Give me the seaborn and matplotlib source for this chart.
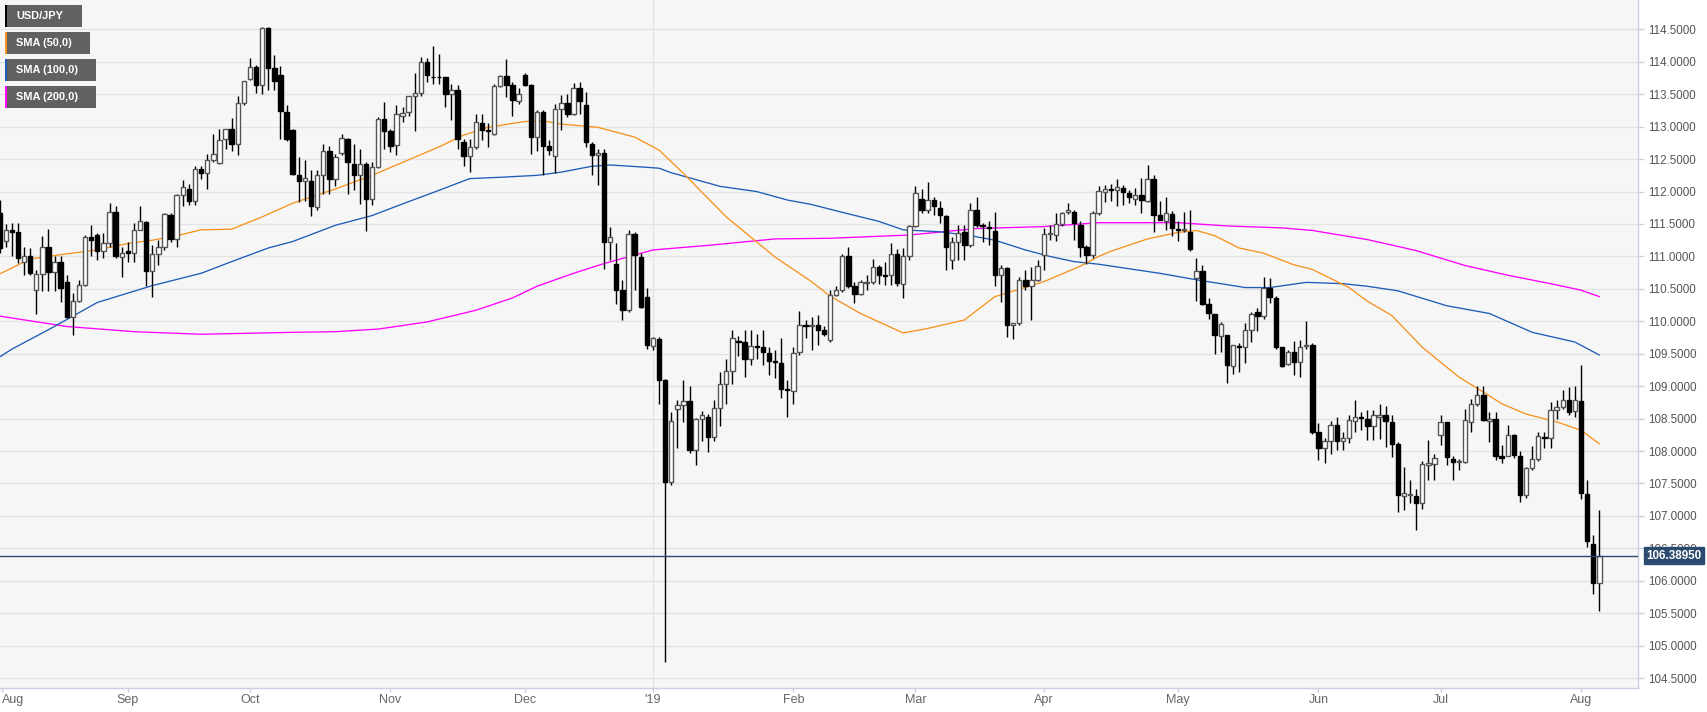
import numpy as np
import pandas as pd
import matplotlib
matplotlib.use("Agg")
import matplotlib.pyplot as plt
from matplotlib.patches import Rectangle
import seaborn as sns

# ---------------- data ----------------
first_day = "2018-08-03"
last_day = "2019-08-06"

opens = [111.67, 111.24, 111.40, 111.38, 110.92, 111.00, 110.48, 110.73, 111.15, 110.76,
         110.91, 110.60, 110.07, 110.31, 110.56, 111.30, 111.33, 111.09, 111.20, 111.69,
         110.99, 111.09, 111.06, 111.41, 111.53, 110.77, 111.04, 111.14, 111.64, 111.27,
         111.94, 112.04, 111.85, 112.35, 112.28, 112.49, 112.44, 112.81, 112.97, 112.73,
         113.37, 113.74, 113.92, 113.65, 114.52, 113.91, 113.79, 113.23, 112.95, 112.26,
         112.16, 112.16, 111.76, 112.25, 112.63, 112.20, 112.59, 112.81, 112.43, 112.26,
         112.42, 111.89, 112.38, 113.12, 112.93, 112.72, 113.17, 113.22, 113.47, 113.52,
         113.99, 113.77, 113.77, 113.77, 113.50, 113.56, 112.77, 112.55, 112.68, 113.06,
         112.95, 112.88, 113.63, 113.78, 113.65, 113.39, 113.80, 113.65, 112.84, 113.23,
         112.70, 112.55, 113.28, 113.37, 113.19, 113.60, 113.33, 112.74, 112.56, 112.59,
         111.23, 110.88, 110.48, 110.17, 111.34, 110.99, 110.38, 109.62, 109.73, 109.09,
         107.53, 108.65, 108.71, 108.77, 108.02, 108.49, 108.52, 108.22, 108.67, 109.03,
         109.23, 109.69, 109.68, 109.42, 109.62, 109.60, 109.51, 109.38, 109.35, 108.95,
         108.92, 109.52, 109.94, 109.93, 109.95, 109.87, 109.71, 110.41, 110.48, 111.01,
         110.54, 110.42, 110.59, 110.61, 110.84, 110.72, 110.71, 111.04, 110.58, 111.00,
         111.47, 111.88, 111.71, 111.87, 111.75, 111.62, 110.94, 111.22, 111.37, 111.18,
         111.72, 111.48, 111.45, 111.39, 110.72, 110.82, 109.94, 109.97, 110.64, 110.54,
         110.64, 111.02, 111.35, 111.33, 111.50, 111.68, 111.69, 111.49, 111.14, 111.02,
         111.67, 111.99, 112.04, 112.03, 112.06, 111.98, 111.89, 111.94, 111.86, 112.20,
         111.64, 111.55, 111.65, 111.43, 111.40, 111.38, 110.67, 110.77, 110.27, 110.12,
         109.78, 109.79, 109.31, 109.62, 109.61, 109.86, 110.15, 110.08, 110.51, 110.36,
         109.61, 109.34, 109.53, 109.38, 109.62, 109.63, 108.29, 108.05, 108.15, 108.40,
         108.15, 108.20, 108.46, 108.52, 108.50, 108.38, 108.52, 108.55, 108.45, 108.11,
         107.31, 107.32, 107.30, 107.20, 107.79, 107.80, 108.24, 108.45, 107.88, 107.83,
         107.83, 108.45, 108.73, 108.87, 108.47, 108.50, 107.92, 107.92, 108.25, 107.93,
         107.32, 107.74, 107.88, 108.22, 108.20, 108.64, 108.68, 108.78, 108.62, 108.77,
         107.34, 106.57, 105.96]

highs = [111.87, 111.50, 111.51, 111.51, 111.15, 111.13, 110.79, 111.32, 111.43, 111.00,
         111.00, 110.72, 110.43, 110.64, 111.33, 111.49, 111.36, 111.36, 111.83, 111.77,
         111.15, 111.23, 111.51, 111.77, 111.54, 111.18, 111.25, 111.67, 111.67, 111.97,
         112.18, 112.12, 112.40, 112.40, 112.58, 112.88, 112.97, 112.97, 113.14, 113.47,
         113.71, 114.06, 113.95, 114.54, 114.54, 114.10, 113.94, 113.33, 112.97, 112.53,
         112.48, 112.33, 112.34, 112.74, 112.71, 112.58, 112.89, 112.82, 112.74, 112.66,
         112.45, 112.45, 113.15, 113.38, 112.97, 113.33, 113.30, 113.48, 113.82, 114.07,
         114.06, 114.25, 114.12, 113.77, 113.66, 113.64, 112.81, 112.81, 113.20, 113.20,
         113.05, 113.66, 113.79, 114.05, 113.69, 113.59, 113.82, 113.66, 113.26, 113.26,
         112.80, 113.35, 113.49, 113.51, 113.67, 113.69, 113.54, 112.76, 112.66, 112.66,
         111.46, 111.20, 110.63, 111.40, 111.38, 111.05, 110.51, 109.76, 109.76, 109.11,
         108.60, 108.78, 109.10, 109.01, 108.51, 108.62, 108.57, 108.78, 109.22, 109.42,
         109.86, 109.78, 109.86, 109.86, 109.80, 109.86, 109.60, 109.55, 109.75, 109.09,
         109.60, 110.16, 110.02, 110.07, 110.09, 109.93, 110.48, 110.54, 111.03, 111.14,
         110.61, 110.64, 110.71, 110.96, 110.87, 110.92, 111.20, 111.11, 111.13, 111.49,
         112.09, 112.04, 112.14, 111.92, 111.86, 111.64, 111.30, 111.49, 111.49, 111.83,
         111.91, 111.52, 111.55, 111.69, 110.87, 110.84, 109.97, 110.69, 110.79, 110.84,
         110.95, 111.44, 111.49, 111.67, 111.69, 111.83, 111.72, 111.54, 111.18, 111.70,
         112.09, 112.10, 112.12, 112.19, 112.10, 112.03, 112.05, 112.21, 112.41, 112.26,
         111.86, 111.92, 111.70, 111.54, 111.68, 111.72, 110.97, 110.87, 110.36, 110.12,
         109.99, 109.79, 109.64, 109.66, 109.98, 110.15, 110.20, 110.68, 110.66, 110.39,
         109.61, 109.56, 109.70, 109.71, 110.00, 109.66, 108.43, 108.20, 108.46, 108.52,
         108.30, 108.55, 108.79, 108.60, 108.63, 108.63, 108.73, 108.70, 108.55, 108.14,
         107.75, 107.55, 107.42, 107.85, 108.17, 107.95, 108.55, 108.45, 107.93, 107.88,
         108.65, 108.80, 109.01, 109.01, 108.60, 108.60, 108.09, 108.40, 108.26, 108.00,
         107.76, 108.07, 108.30, 108.30, 108.76, 108.78, 108.94, 108.99, 109.01, 109.33,
         107.56, 106.70, 107.09]

lows = [111.05, 111.15, 111.00, 110.90, 110.72, 110.72, 110.12, 110.46, 110.46, 110.46,
        110.30, 110.05, 109.79, 110.30, 110.55, 111.00, 110.95, 110.97, 111.15, 110.97,
        110.69, 110.92, 110.92, 111.40, 110.54, 110.38, 110.87, 111.10, 111.23, 111.15,
        111.77, 111.79, 111.79, 112.20, 112.04, 112.45, 112.43, 112.66, 112.63, 112.56,
        113.33, 113.72, 113.52, 113.51, 113.56, 113.56, 112.81, 112.78, 112.25, 111.84,
        111.86, 111.63, 111.71, 111.97, 111.97, 112.09, 112.56, 111.97, 112.02, 111.81,
        111.39, 111.79, 112.36, 112.66, 112.61, 112.56, 113.07, 113.17, 112.94, 113.48,
        113.69, 113.66, 113.66, 113.30, 113.10, 112.66, 112.40, 112.30, 112.66, 112.79,
        112.69, 112.87, 113.61, 113.46, 113.17, 113.35, 113.62, 112.58, 112.63, 112.25,
        112.56, 112.28, 112.95, 113.15, 113.18, 113.20, 112.69, 112.25, 112.10, 110.81,
        110.94, 110.27, 110.02, 110.15, 110.48, 110.20, 109.58, 109.56, 108.73, 104.75,
        107.47, 108.04, 108.45, 107.97, 107.78, 108.16, 107.98, 108.16, 108.39, 108.72,
        109.03, 109.47, 109.14, 109.32, 109.42, 109.32, 109.17, 109.13, 108.81, 108.53,
        108.72, 109.48, 109.75, 109.55, 109.63, 109.77, 109.68, 110.39, 110.45, 110.51,
        110.28, 110.40, 110.48, 110.58, 110.58, 110.56, 110.56, 110.54, 110.36, 110.95,
        111.46, 111.67, 111.67, 111.64, 111.51, 110.79, 110.80, 110.94, 110.94, 111.14,
        111.46, 111.22, 111.17, 110.54, 110.30, 109.76, 109.73, 109.94, 110.48, 110.02,
        110.62, 110.79, 111.26, 111.24, 111.47, 111.66, 111.26, 110.99, 110.88, 110.97,
        111.64, 111.84, 111.86, 111.77, 111.80, 111.83, 111.80, 111.67, 111.84, 111.38,
        111.56, 111.40, 111.32, 111.24, 111.38, 111.08, 110.31, 110.25, 110.04, 109.49,
        109.52, 109.05, 109.18, 109.22, 109.35, 109.68, 109.85, 110.04, 110.28, 109.58,
        109.30, 109.33, 109.17, 109.14, 109.58, 108.26, 107.86, 107.82, 107.96, 108.02,
        108.02, 108.12, 108.29, 108.32, 108.17, 108.17, 108.19, 108.06, 107.91, 107.06,
        107.09, 107.20, 106.79, 107.11, 107.56, 107.56, 108.09, 107.78, 107.55, 107.70,
        107.81, 108.29, 108.70, 108.47, 108.14, 107.86, 107.81, 107.92, 107.89, 107.22,
        107.28, 107.70, 107.85, 108.05, 108.05, 108.50, 108.65, 108.55, 108.53, 107.26,
        106.52, 105.80, 105.54]

closes = [111.13, 111.41, 111.38, 110.97, 111.01, 110.75, 110.73, 111.15, 110.76, 110.91,
          110.52, 110.07, 110.31, 110.56, 111.30, 111.26, 111.09, 111.20, 111.69, 111.00,
          111.06, 111.06, 111.41, 111.54, 110.77, 111.04, 111.14, 111.65, 111.27, 111.94,
          112.07, 111.85, 112.35, 112.29, 112.49, 112.58, 112.80, 112.97, 112.73, 113.37,
          113.70, 113.92, 113.65, 114.52, 113.91, 113.71, 113.24, 112.81, 112.27, 112.16,
          112.21, 111.77, 112.25, 112.63, 112.20, 112.53, 112.82, 112.45, 112.26, 112.42,
          111.89, 112.38, 113.12, 112.94, 112.71, 113.19, 113.21, 113.47, 113.52, 113.99,
          113.79, 113.76, 113.76, 113.50, 113.57, 112.81, 112.55, 112.68, 113.07, 112.95,
          112.94, 113.63, 113.78, 113.65, 113.41, 113.50, 113.65, 112.84, 113.23, 112.71,
          112.64, 113.28, 113.37, 113.19, 113.60, 113.39, 112.76, 112.57, 112.60, 111.23,
          111.30, 110.48, 110.17, 111.34, 111.02, 110.22, 109.63, 109.75, 109.09, 107.53,
          108.47, 108.71, 108.77, 108.02, 108.49, 108.55, 108.22, 108.67, 109.03, 109.23,
          109.75, 109.68, 109.42, 109.62, 109.61, 109.52, 109.39, 109.37, 108.96, 108.94,
          109.51, 109.94, 109.92, 109.95, 109.87, 109.81, 110.41, 110.48, 111.01, 110.54,
          110.42, 110.60, 110.61, 110.84, 110.72, 110.70, 111.04, 110.59, 111.00, 111.47,
          111.98, 111.71, 111.87, 111.77, 111.64, 111.14, 111.22, 111.36, 111.18, 111.72,
          111.49, 111.47, 111.44, 110.72, 110.82, 109.94, 109.97, 110.64, 110.54, 110.64,
          110.85, 111.35, 111.35, 111.50, 111.67, 111.72, 111.51, 111.15, 111.02, 111.67,
          112.01, 112.04, 112.03, 112.07, 111.99, 111.91, 111.94, 111.87, 112.20, 111.64,
          111.56, 111.67, 111.44, 111.40, 111.42, 111.11, 110.77, 110.27, 110.13, 109.79,
          109.96, 109.33, 109.63, 109.60, 109.86, 110.11, 110.08, 110.51, 110.38, 109.61,
          109.31, 109.52, 109.38, 109.60, 109.62, 108.29, 108.05, 108.15, 108.40, 108.15,
          108.20, 108.48, 108.53, 108.51, 108.39, 108.56, 108.55, 108.46, 108.11, 107.32,
          107.35, 107.32, 107.20, 107.80, 107.82, 107.90, 108.45, 107.91, 107.83, 107.83,
          108.48, 108.73, 108.86, 108.48, 108.50, 107.92, 107.90, 108.25, 107.94, 107.32,
          107.74, 107.88, 108.23, 108.20, 108.64, 108.68, 108.78, 108.60, 108.78, 107.35,
          106.62, 105.96, 106.3895]

# moving averages (bar number, value)
sma50_bar = [0, 5, 11, 16, 21, 25, 29, 33, 38, 43, 48, 55, 61, 66, 72, 76, 80, 86, 89, 92,
             98, 104, 108, 112, 119, 127, 133, 136, 141, 148, 152, 158, 163, 171, 177, 180,
             182, 188, 193, 196, 199, 203, 207, 212, 215, 221, 224, 228, 233, 239, 243, 246,
             250, 255, 259, 262]
sma50_val = [110.73, 110.96, 111.04, 111.10, 111.20, 111.25, 111.32, 111.41, 111.42, 111.61,
             111.82, 112.04, 112.25, 112.45, 112.69, 112.87, 112.99, 113.08, 113.09, 113.04,
             112.99, 112.84, 112.64, 112.28, 111.61, 110.99, 110.61, 110.39, 110.12, 109.82,
             109.89, 110.02, 110.38, 110.61, 110.85, 111.00, 111.08, 111.27, 111.37, 111.40,
             111.32, 111.13, 111.05, 110.87, 110.80, 110.52, 110.31, 110.09, 109.60, 109.14,
             108.91, 108.73, 108.57, 108.45, 108.32, 108.11]

sma100_bar = [0, 2, 8, 16, 25, 33, 38, 44, 48, 55, 61, 66, 72, 77, 82, 88, 92, 97, 100, 105,
              108, 110, 118, 124, 129, 133, 138, 144, 148, 154, 159, 163, 168, 172, 176, 180,
              190, 196, 204, 208, 214, 220, 224, 229, 237, 244, 251, 258, 262]
sma100_val = [109.45, 109.57, 109.87, 110.29, 110.55, 110.74, 110.92, 111.13, 111.23, 111.48,
              111.63, 111.81, 112.02, 112.20, 112.22, 112.25, 112.30, 112.39, 112.41, 112.38,
              112.36, 112.29, 112.08, 112.00, 111.87, 111.80, 111.68, 111.54, 111.41, 111.38,
              111.32, 111.25, 111.10, 111.00, 110.92, 110.88, 110.74, 110.64, 110.52, 110.52,
              110.60, 110.58, 110.54, 110.47, 110.24, 110.12, 109.83, 109.68, 109.48]

sma200_bar = [0, 11, 22, 33, 48, 55, 62, 70, 78, 84, 88, 94, 99, 107, 116, 127, 136, 149,
              160, 171, 180, 193, 201, 210, 215, 224, 232, 240, 247, 254, 259, 262]
sma200_val = [110.08, 109.92, 109.84, 109.80, 109.83, 109.84, 109.88, 109.99, 110.17, 110.36,
              110.54, 110.74, 110.89, 111.10, 111.17, 111.27, 111.28, 111.33, 111.43, 111.46,
              111.52, 111.52, 111.47, 111.44, 111.40, 111.26, 111.09, 110.86, 110.71, 110.58,
              110.48, 110.38]

legend_labels = ["USD/JPY", "SMA (50,0)", "SMA (100,0)", "SMA (200,0)"]
legend_colors = ["#000000", "#f7931e", "#1f5cb8", "#ff00ff"]
last_price_text = "106.38950"

# ---------------- figure ----------------
W, H = 1707, 712
sns.set_theme(style="white")
plt.rcParams["font.family"] = ["Liberation Sans", "DejaVu Sans"]

fig = plt.figure(figsize=(W / 100, H / 100), dpi=100)
fig.patch.set_facecolor("white")
ax = fig.add_axes([0, 1 - 688 / H, 1638 / W, 688 / H])
ax.set_facecolor("#f6f6f6")

dates = pd.bdate_range(first_day, last_day)
o = np.array(opens)
h = np.array(highs)
l = np.array(lows)
c = np.array(closes)
x = np.arange(len(dates))

# grid
yt = np.arange(104.5, 114.51, 0.5)
for v in yt:
    ax.axhline(v, color="#e3e3e3", lw=1, zorder=0)

# month ticks
month_pos, month_lab = [], []
prev = None
for i, d in enumerate(dates):
    key = (d.year, d.month)
    if key != prev:
        if prev is not None:
            month_pos.append(i)
            month_lab.append("'" + d.strftime("%y") if d.month == 1 else d.strftime("%b"))
        prev = key
year_pos = [p for p, lab in zip(month_pos, month_lab) if lab.startswith("'")]
for p in year_pos:
    ax.axvline(p, color="#e3e3e3", lw=1, zorder=0)

# SMA lines (seaborn)
sns.lineplot(x=sma200_bar, y=sma200_val, ax=ax, color=legend_colors[3], lw=0.95, zorder=2)
sns.lineplot(x=sma100_bar, y=sma100_val, ax=ax, color=legend_colors[2], lw=0.95, zorder=2)
sns.lineplot(x=sma50_bar, y=sma50_val, ax=ax, color=legend_colors[1], lw=0.95, zorder=2)

# candles
ax.vlines(x, l, h, color="black", lw=1, zorder=3)
up = c >= o
body = np.maximum(np.abs(c - o), 0.012)
ax.bar(x[up], body[up], bottom=o[up], width=0.72, color="white",
       edgecolor="#555555", linewidth=1, zorder=4)
ax.bar(x[~up], body[~up], bottom=c[~up], width=0.72, color="black",
       edgecolor="black", linewidth=1, zorder=4)

# last price line
ax.axhline(c[-1], color="#2b4a6f", lw=1, zorder=5)

# axes
ax.set_xlim(0.066, 268.33)
ax.set_ylim(104.347, 114.953)
ax.yaxis.tick_right()
ax.set_yticks(yt)
ax.set_yticklabels([f"{v:.4f}" for v in yt])
ax.tick_params(axis="y", which="both", right=True, left=False, length=4, width=1,
               color="#c9cfe0", labelsize=8.4, labelcolor="#555555", pad=3)
ax.set_xticks([0.35] + month_pos)
ax.set_xticklabels(["Aug"] + month_lab)
ax.tick_params(axis="x", bottom=True, length=3, width=1, color="#c9cfe0",
               labelsize=9, labelcolor="#666666", pad=1.5)
for t in ax.get_xticklabels():
    t.set_family(["Liberation Sans Narrow", "Liberation Sans"])
ax.get_xticklabels()[0].set_ha("left")
ax.set_xlabel("")
ax.set_ylabel("")
for s in ["top", "left"]:
    ax.spines[s].set_visible(False)
for s in ["right", "bottom"]:
    ax.spines[s].set_visible(True)
    ax.spines[s].set_color("#c9cfe0")
    ax.spines[s].set_linewidth(1)
ax.grid(False)

# last price label (sits over the 106.5000 tick label, as in the reference)
ax.annotate(last_price_text, xy=(1.0, c[-1]), xycoords=("axes fraction", "data"),
            xytext=(6, 0), textcoords="offset points", ha="left", va="center",
            fontsize=8.4, fontweight="bold", color="white",
            bbox=dict(boxstyle="square,pad=0.2", fc="#2b4a6f", ec="#2b4a6f"), zorder=10)

# legend boxes
box_w = [77, 85, 91, 91]
for k, (lab, col) in enumerate(zip(legend_labels, legend_colors)):
    y0 = 5 + 27 * k
    fig.add_artist(Rectangle((5 / W, 1 - (y0 + 21.7) / H), box_w[k] / W, 21.7 / H,
                             transform=fig.transFigure, fc="#616161", ec="none", zorder=20))
    fig.add_artist(Rectangle((5 / W, 1 - (y0 + 21.7) / H), 2.4 / W, 21.7 / H,
                             transform=fig.transFigure, fc=col, ec="none", zorder=21))
    fig.text(16.5 / W, 1 - (y0 + 11.3) / H, lab, color="white", fontsize=7.9,
             fontweight="bold", va="center", ha="left", zorder=22)

fig.savefig("out.png", dpi=100)
